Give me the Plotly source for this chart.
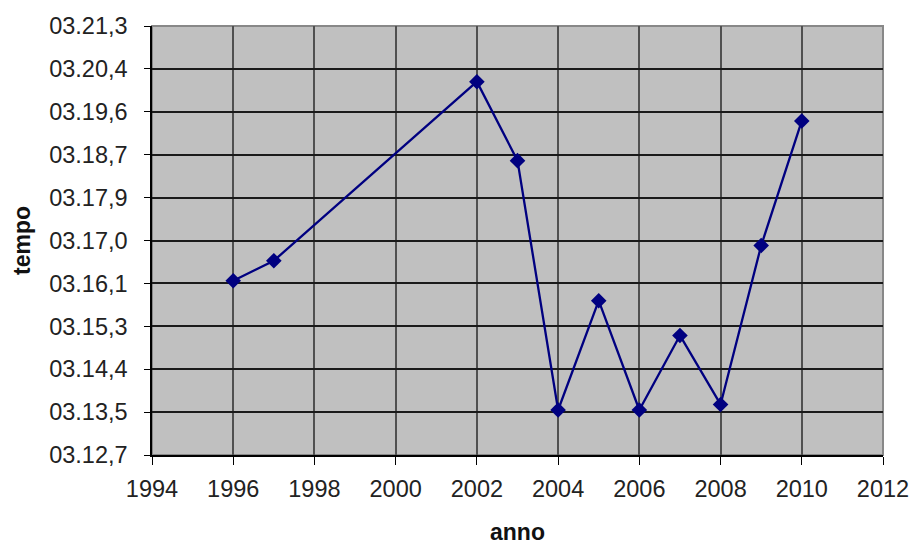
import plotly.graph_objects as go

years = [1996, 1997, 2002, 2003, 2004, 2005, 2006, 2007, 2008, 2009, 2010]
# times in seconds (3 min = 180 s)
times_s = [196.18, 196.585, 200.19, 198.60, 193.578, 195.78, 193.578, 195.08, 193.69, 196.89, 199.40]

y_tick_vals = [192.672, 193.536, 194.400, 195.264, 196.128, 196.992,
               197.856, 198.720, 199.584, 200.448, 201.312]
y_tick_text = ["03.12,7", "03.13,5", "03.14,4", "03.15,3", "03.16,1", "03.17,0",
               "03.17,9", "03.18,7", "03.19,6", "03.20,4", "03.21,3"]
x_tick_vals = [1994, 1996, 1998, 2000, 2002, 2004, 2006, 2008, 2010, 2012]

fig = go.Figure()
fig.add_trace(go.Scatter(
    x=years, y=times_s, mode="lines+markers",
    line=dict(color="#000080", width=2.3),
    marker=dict(symbol="diamond", size=12, color="#000080"),
    showlegend=False,
))

font = dict(family="Liberation Sans, Arial, sans-serif", size=23.5, color="#222222")

fig.update_layout(
    width=914, height=545,
    margin=dict(l=152, r=31, t=26, b=90),
    paper_bgcolor="white",
    plot_bgcolor="#C0C0C0",
    font=font,
    xaxis=dict(
        range=[1994, 2012], tickvals=x_tick_vals,
        showgrid=True, gridcolor="#505050", gridwidth=1.5,
        showline=True, linecolor="#000000", linewidth=1.5,
        ticks="outside", ticklen=8, tickcolor="#000000",
        ticklabelstandoff=4,
        zeroline=False, automargin=False,
        title=dict(text="<b>anno</b>", font=dict(size=23, color="#111111"), standoff=28),
    ),
    yaxis=dict(
        range=[192.672, 201.312], tickvals=y_tick_vals, ticktext=y_tick_text,
        showgrid=True, gridcolor="#1a1a1a", gridwidth=1.5,
        showline=True, linecolor="#000000", linewidth=1.5,
        ticks="outside", ticklen=6, tickcolor="#000000",
        ticklabelstandoff=12,
        zeroline=False, automargin=False,
        title=dict(text="<b>tempo</b>", font=dict(size=23, color="#111111"), standoff=12),
    ),
)

fig.add_shape(type="rect", xref="paper", yref="paper", x0=0, x1=1, y0=0, y1=1,
              line=dict(color="#888888", width=2), layer="below")

fig.write_html("out.html")
